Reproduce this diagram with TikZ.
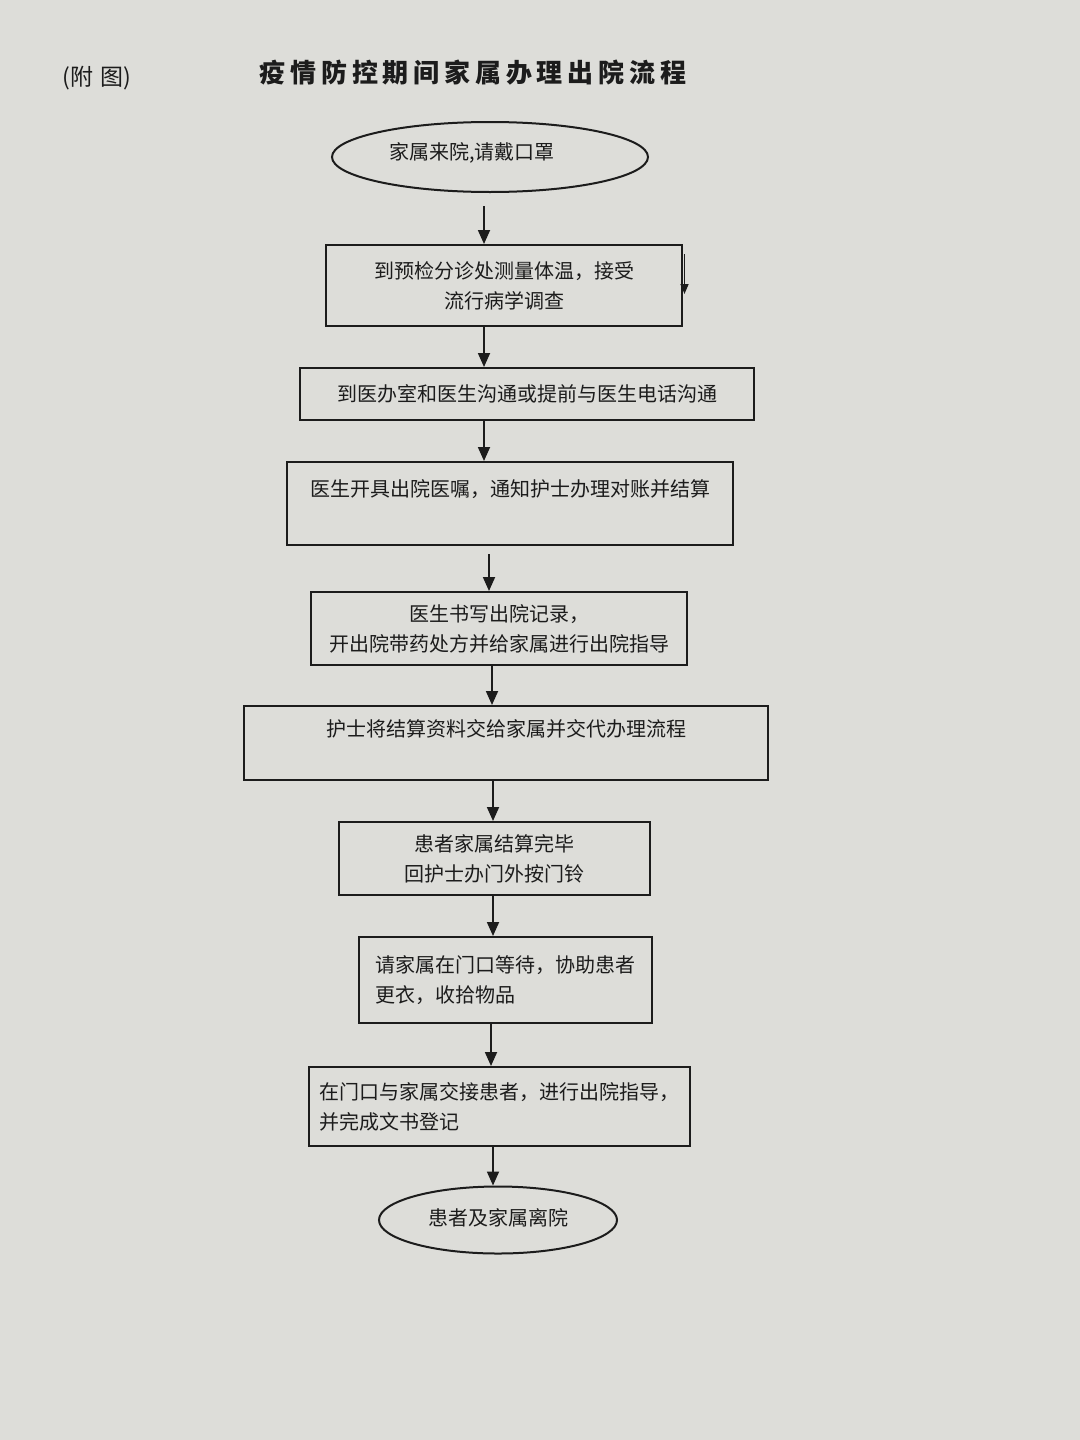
\documentclass[tikz,border=0pt]{standalone}
\usepackage{fontspec}
\setmainfont{Noto Sans CJK SC}
\usetikzlibrary{arrows.meta,shapes.geometric}
\definecolor{paper}{RGB}{221,221,217}
\definecolor{ink}{RGB}{28,28,28}
\newcommand\tkrn{\kern2.4pt}
\begin{document}
\begin{tikzpicture}[x=0.5pt,y=-0.5pt,
  box/.style={draw=ink,line width=1pt,rectangle,inner sep=0pt,align=center,
    font=\fontsize{10pt}{15pt}\selectfont,text=ink},
  lbox/.style={box,align=left},
  oval/.style={draw=ink,line width=1pt,ellipse,inner sep=0pt,
    font=\fontsize{10pt}{15pt}\selectfont,text=ink},
  arr/.style={draw=ink,line width=0.9pt,-{Triangle[width=6pt,length=7pt]}},
  smallarr/.style={draw=ink,line width=0.8pt,-{Triangle[width=4pt,length=5pt]}}]
\fill[paper] (0,0) rectangle (1080,1440);
\useasboundingbox (0,0) rectangle (1080,1440);

\node[text=ink,font=\fontsize{11.5pt}{12pt}\selectfont] (fig) at (97,78) {(附\kern4pt 图)};
\node[text=ink,font=\fontsize{13pt}{13pt}\selectfont\bfseries] (title) at (473,73)
  {疫\tkrn 情\tkrn 防\tkrn 控\tkrn 期\tkrn 间\tkrn 家\tkrn 属\tkrn 办\tkrn 理\tkrn 出\tkrn 院\tkrn 流\tkrn 程};

\node[oval,minimum width=158pt,minimum height=35pt] (e1) at (490,157) {};
\node[text=ink,font=\fontsize{10pt}{15pt}\selectfont,inner sep=0pt] (e1t) at (e1.center) [xshift=-9pt,yshift=2pt] {家属来院,请戴口罩};

\node[box,minimum width=178pt,minimum height=40.5pt] (b2) at (504,285.5) {到预检分诊处测量体温，接受\\流行病学调查};
\node[box,minimum width=227pt,minimum height=26pt] (b3) at (527,394) {到医办室和医生沟通或提前与医生电话沟通};
\node[box,minimum width=223pt,minimum height=41.5pt] (b4) at (510,503.5) {医生开具出院医嘱，通知护士办理对账并结算\\ \mbox{}};
\node[box,minimum width=188pt,minimum height=36.5pt] (b5) at (499,628.5) {医生书写出院记录，\\开出院带药处方并给家属进行出院指导};
\node[box,minimum width=262pt,minimum height=37pt] (b6) at (506,743) {护士将结算资料交给家属并交代办理流程\\ \mbox{}};
\node[box,minimum width=155.5pt,minimum height=36.5pt] (b7) at (494.5,858.5) {患者家属结算完毕\\回护士办门外按门铃};
\node[lbox,minimum width=146.5pt,minimum height=43pt] (b8) at (505.5,980) {请家属在门口等待，协助患者\\更衣，收拾物品};
\node[lbox,minimum width=190.5pt,minimum height=39.5pt] (b9) at (499.5,1106.5) {在门口与家属交接患者，进行出院指导，\\并完成文书登记};
\node[oval,minimum width=119pt,minimum height=33.5pt] (e10) at (498,1220) {};
\node[text=ink,font=\fontsize{10pt}{15pt}\selectfont,inner sep=0pt] (e10t) at (e10.center) [yshift=1pt] {患者及家属离院};

\draw[arr] (e1.south -| 484,0) ++(0,13) -- (b2.north -| 484,0);
\draw[smallarr] (b2.north east) ++(1.5,10) -- ++(0,40);
\draw[arr] (b2.south -| 484,0) -- (b3.north -| 484,0);
\draw[arr] (b3.south -| 484,0) -- (b4.north -| 484,0);
\draw[arr] (b4.south -| 489,0) ++(0,8) -- (b5.north -| 489,0);
\draw[arr] (b5.south -| 492,0) -- (b6.north -| 492,0);
\draw[arr] (b6.south -| 493,0) -- (b7.north -| 493,0);
\draw[arr] (b7.south -| 493,0) -- (b8.north -| 493,0);
\draw[arr] (b8.south -| 491,0) -- (b9.north -| 491,0);
\draw[arr] (b9.south -| 493,0) -- (e10.north -| 493,0);
\end{tikzpicture}
\end{document}
